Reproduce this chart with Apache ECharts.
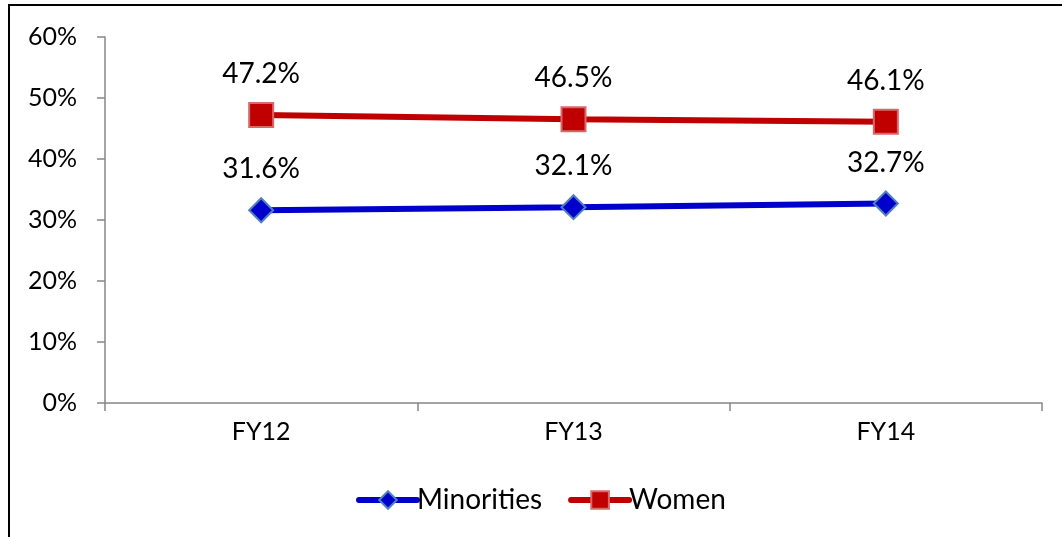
<!DOCTYPE html>
<html>
<head>
<meta charset="utf-8">
<script src="https://cdn.jsdelivr.net/npm/echarts@6/dist/echarts.min.js"></script>
<style>
  html, body { margin: 0; padding: 0; background: #fff; }
  #chart { width: 1062px; height: 537px; }
</style>
</head>
<body>
<div id="chart"></div>
<script>
// data
var years = ['FY12', 'FY13', 'FY14'];
var minorities = [31.6, 32.1, 32.7];
var women = [47.2, 46.5, 46.1];
var yTicks = [0, 10, 20, 30, 40, 50, 60];

var chart = echarts.init(document.getElementById('chart'));
var font = 'Lato, "Open Sans", sans-serif';
var axisGray = '#868686';

function pct(p) { return p.value.toFixed(1) + '%'; }

var option = {
  backgroundColor: '#fff',
  animation: false,
  textStyle: { fontFamily: font, color: '#000' },
  graphic: [{
    type: 'polyline',
    shape: { points: [[9, 600], [9, 5], [1100, 5]] },
    style: { stroke: '#000', lineWidth: 2, fill: null }
  }],
  grid: { left: 105, right: 20, top: 37, bottom: 134 },
  legend: {
    bottom: 18,
    left: 351,
    itemWidth: 58,
    itemHeight: 22,
    itemGap: 26,
    lineStyle: { width: 6, cap: 'round' },
    textStyle: { fontSize: 28, color: '#000', fontFamily: font, padding: [0, 0, 0, -5] },
    data: ['Minorities', 'Women']
  },
  xAxis: {
    type: 'category',
    data: years,
    boundaryGap: true,
    axisLine: { lineStyle: { color: axisGray, width: 1.5 } },
    axisTick: { show: true, length: 8, lineStyle: { color: axisGray, width: 1.5 } },
    axisLabel: { fontSize: 25, color: '#000', margin: 16, fontFamily: font }
  },
  yAxis: {
    type: 'value',
    min: yTicks[0],
    max: yTicks[yTicks.length - 1],
    interval: 10,
    splitLine: { show: false },
    axisLine: { show: true, lineStyle: { color: axisGray, width: 1.5 } },
    axisTick: { show: true, length: 8, lineStyle: { color: axisGray, width: 1.5 } },
    axisLabel: { fontSize: 25, color: '#000', margin: 28, formatter: '{value}%', fontFamily: font }
  },
  series: [{
    name: 'Minorities',
    type: 'line',
    data: minorities,
    symbol: 'diamond',
    symbolSize: 24,
    lineStyle: { color: '#0000CC', width: 6, cap: 'round' },
    itemStyle: { color: '#0000CC', borderColor: '#4F81BD', borderWidth: 2 },
    label: {
      show: true, position: 'top', distance: 14,
      fontSize: 28, color: '#000', fontFamily: font,
      formatter: pct
    }
  }, {
    name: 'Women',
    type: 'line',
    data: women,
    symbol: 'rect',
    symbolSize: 24,
    lineStyle: { color: '#C00000', width: 6, cap: 'round' },
    itemStyle: { color: '#C00000', borderColor: '#D66A6A', borderWidth: 2 },
    label: {
      show: true, position: 'top', distance: 14,
      fontSize: 28, color: '#000', fontFamily: font,
      formatter: pct
    }
  }]
};
chart.setOption(option);
</script>
</body>
</html>
